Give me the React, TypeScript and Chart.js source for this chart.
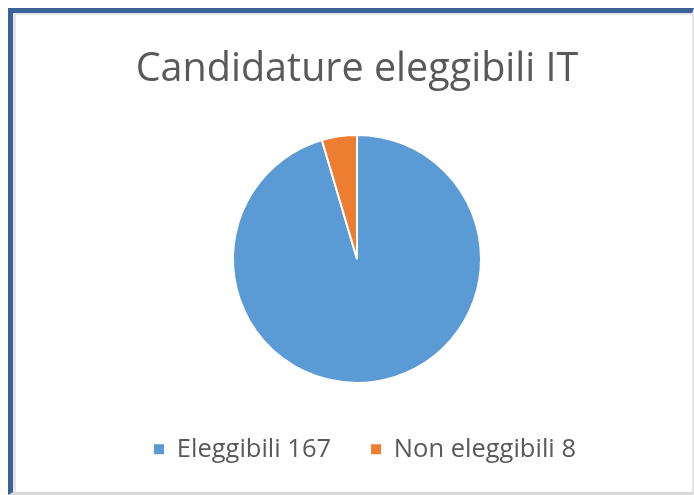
import React, { useEffect, useRef } from "react";
import { Chart, registerables } from "chart.js";

Chart.register(...registerables);

const categories = ["Eleggibili", "Non eleggibili"];
const values = [167, 8];
const colors = ["#5B9BD5", "#ED7D31"];
const titleText = "Candidature eleggibili IT";

const legendShift = {
  id: "legendShift",
  afterLayout(chart: any) {
    const lg = chart.legend;
    if (lg) {
      lg.left += 8;
      lg.right += 8;
    }
  },
};

export default function App() {
  const ref = useRef<HTMLCanvasElement | null>(null);
  useEffect(() => {
    if (!ref.current) return;
    const chart = new Chart(ref.current, {
      type: "pie",
      plugins: [legendShift],
      data: {
        labels: categories,
        datasets: [
          {
            data: values,
            backgroundColor: colors,
            borderColor: "#ffffff",
            borderWidth: 2,
            radius: 124,
          },
        ],
      },
      options: {
        animation: false,
        responsive: true,
        maintainAspectRatio: false,
        layout: { padding: { top: 0, bottom: 20, left: 6, right: 0 } },
        plugins: {
          tooltip: { enabled: false },
          title: {
            display: true,
            text: titleText,
            color: "#595959",
            font: { family: "Open Sans", size: 39.5, weight: "normal" },
            padding: { top: 31, bottom: 28 },
          },
          legend: {
            display: true,
            position: "bottom",
            labels: {
              color: "#595959",
              font: { family: "Open Sans", size: 25.5 },
              boxWidth: 10,
              boxHeight: 10,
              padding: 40,
              generateLabels: () =>
                categories.map((cat, i) => ({
                  text: `${cat} ${values[i]}`,
                  fillStyle: colors[i],
                  strokeStyle: colors[i],
                  lineWidth: 0,
                  hidden: false,
                  index: i,
                  fontColor: "#595959",
                })),
            },
          },
        },
      },
    });
    return () => chart.destroy();
  }, []);
  return (
    <div
      style={{
        position: "fixed",
        left: 8,
        top: 8,
        width: 686,
        height: 487,
        boxSizing: "border-box",
        borderTop: "5px solid #3B6296",
        borderLeft: "5px solid #3B6296",
        borderBottom: "3px solid #D9D9D9",
        borderRight: "2px solid #E4E4E4",
        background: "#ffffff",
      }}
    >
      <div style={{ position: "absolute", left: 0, top: 0, right: 0, bottom: 0, borderTop: "2px solid #E6E6E6", borderLeft: "3px solid #E6E6E6" }} />
      <div style={{ position: "absolute", left: 3, top: 2, right: 0, bottom: 0 }}>
        <canvas ref={ref} />
      </div>
    </div>
  );
}
